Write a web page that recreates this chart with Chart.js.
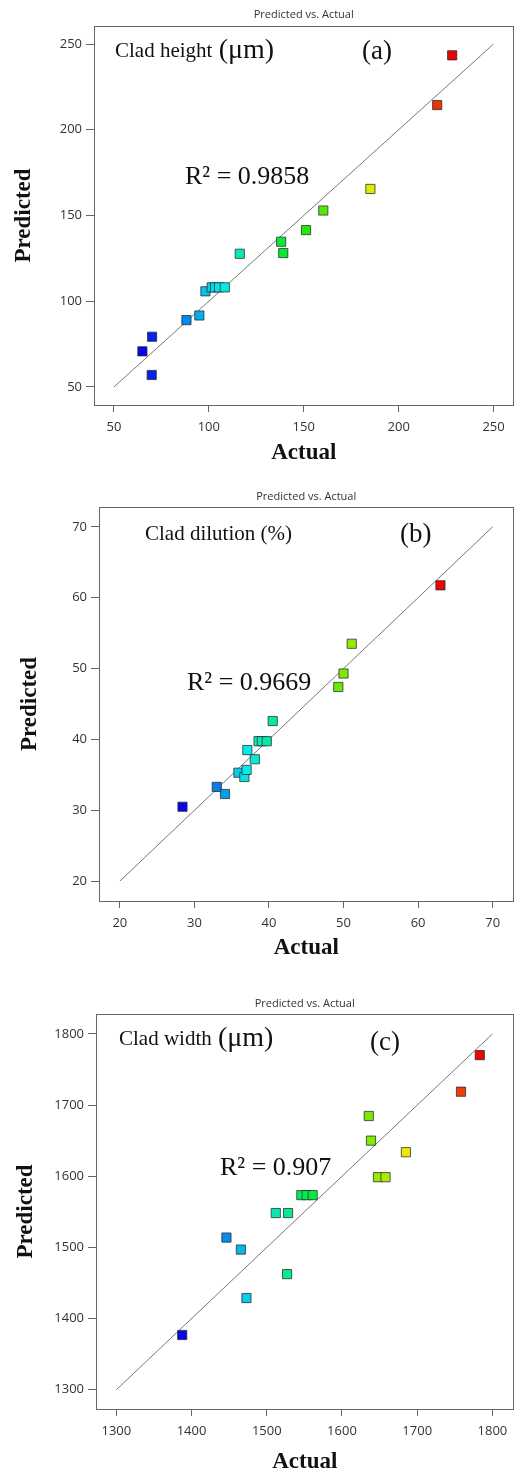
<!DOCTYPE html>
<html>
<head>
<meta charset="utf-8">
<title>Predicted vs. Actual</title>
<script src="https://cdn.jsdelivr.net/npm/chart.js@4.4.1/dist/chart.umd.min.js"></script>
<style>
  html, body { margin: 0; padding: 0; background: #fff; }
  #wrap { position: relative; width: 521px; height: 1474px; }
  .panel { position: absolute; left: 0; width: 521px; }
  .panel canvas { display: block; }
</style>
</head>
<body>
<div id="wrap">
  <div class="panel" style="top:0;"><canvas id="chartA" width="521" height="470"></canvas></div>
  <div class="panel" style="top:480px;"><canvas id="chartB" width="521" height="490"></canvas></div>
  <div class="panel" style="top:990px;"><canvas id="chartC" width="521" height="484"></canvas></div>
</div>

<script>
// ---- (a) Clad height (um) ----
const actualA    = [65, 69.9, 70.1, 88.2, 95, 98.2, 101.5, 103.3, 105.4, 108.4, 116.3, 138.1, 139.2, 151.2, 160.3, 185.1, 220.3, 228.2];
const predictedA = [70.8, 57, 79.3, 89, 91.7, 105.8, 108.1, 108.1, 108.1, 108.1, 127.7, 134.7, 128.1, 141.5, 152.9, 165.5, 214.4, 243.4];
const ticksA = [50, 100, 150, 200, 250];
const rangeA = [39.5, 260.5];
const fitA = [50, 250];

// ---- (b) Clad dilution (%) ----
const actualB    = [28.4, 33.0, 34.1, 35.9, 36.7, 37.0, 37.1, 38.1, 38.6, 39.05, 39.7, 40.5, 49.3, 50.0, 51.1, 63.0];
const predictedB = [30.5, 33.3, 32.3, 35.3, 34.7, 35.7, 38.5, 37.2, 39.75, 39.75, 39.75, 42.6, 47.4, 49.3, 53.5, 61.75];
const ticksB = [20, 30, 40, 50, 60, 70];
const rangeB = [17.2, 72.8];
const fitB = [20, 70];

// ---- (c) Clad width (um) ----
const actualC    = [1387.6, 1446.4, 1465.6, 1473, 1512, 1527, 1528.3, 1546, 1553, 1561, 1635.6, 1638.6, 1647.8, 1657.9, 1685, 1758.2, 1783.2];
const predictedC = [1377, 1513.9, 1497, 1428.9, 1548.3, 1462.5, 1548.3, 1573.5, 1573.5, 1573.5, 1684.7, 1650.1, 1598.7, 1598.7, 1633.8, 1718.8, 1770.2];
const ticksC = [1300, 1400, 1500, 1600, 1700, 1800];
const rangeC = [1273, 1828];
const fitC = [1300, 1800];

const SERIF = '"Liberation Serif", "Times New Roman", serif';
const SANS = '"Open Sans", "Noto Sans", sans-serif';

// couleur arc-en-ciel : bleu (bas) -> rouge (haut)
function rainbow(values) {
  const lo = Math.min(...values), hi = Math.max(...values);
  return values.map(v => {
    const t = (v - lo) / (hi - lo);
    return `hsl(${Math.round(240 - 240 * t)}, 95%, 47%)`;
  });
}

// cadre + textes du panneau
const panelDecor = {
  id: 'panelDecor',
  afterDraw(chart, args, o) {
    const { ctx, chartArea: a } = chart;
    ctx.save();
    ctx.strokeStyle = '#666';
    ctx.lineWidth = 1;
    ctx.strokeRect(Math.round(a.left) + 0.5, Math.round(a.top) + 0.5, Math.round(a.width) - 1, Math.round(a.height));

    ctx.fillStyle = '#333';
    ctx.textBaseline = 'middle';
    ctx.textAlign = 'center';
    ctx.font = `11px ${SANS}`;
    ctx.fillText('Predicted vs. Actual', (a.left + a.right) / 2, o.titleY);

    ctx.fillStyle = '#111';
    ctx.textAlign = 'left';
    ctx.font = `21px ${SERIF}`;
    ctx.fillText(o.name, o.nameX, o.nameY);
    if (o.unit) {
      const w = ctx.measureText(o.name + ' ').width;
      ctx.font = `28px ${SERIF}`;
      ctx.fillText(o.unit, o.nameX + w + 1, o.nameY);
    }
    ctx.font = `27px ${SERIF}`;
    ctx.fillText(o.tag, o.tagX, o.tagY);
    ctx.font = `26px ${SERIF}`;
    ctx.fillText(o.r2, o.r2X, o.r2Y);
    ctx.restore();
  }
};

function buildPanel(id, actual, predicted, ticks, range, fit, box, deco) {
  const canvas = document.getElementById(id);
  const H = canvas.height, W = canvas.width;
  const tickFont = { family: SANS, size: 13 };
  return new Chart(canvas, {
    data: {
      datasets: [
        {
          type: 'scatter',
          data: actual.map((x, i) => ({ x, y: predicted[i] })),
          pointStyle: 'rect',
          pointRadius: 6.5,
          backgroundColor: rainbow(actual),
          borderColor: 'rgba(40,40,40,0.75)',
          borderWidth: 1
        },
        {
          type: 'line',
          data: fit.map(v => ({ x: v, y: v })),
          borderColor: '#777',
          borderWidth: 1,
          pointRadius: 0,
          fill: false
        }
      ]
    },
    options: {
      responsive: false,
      animation: false,
      layout: { padding: { top: box.top, right: W - box.right, left: 0, bottom: 0 } },
      plugins: {
        legend: { display: false },
        tooltip: { enabled: false },
        panelDecor: deco
      },
      scales: {
        x: {
          type: 'linear',
          min: range[0], max: range[1],
          afterBuildTicks: s => { s.ticks = ticks.map(v => ({ value: v })); },
          afterFit: s => { s.height = H - box.bottom; },
          border: { display: false },
          grid: { drawOnChartArea: false, drawTicks: true, tickLength: 7, color: '#666' },
          ticks: { color: '#333', font: tickFont, padding: 7, maxRotation: 0, autoSkip: false,
                   callback: v => String(v) },
          title: { display: true, text: 'Actual', color: '#111',
                   font: { family: SERIF, size: 23, weight: 'bold', lineHeight: 1 },
                   padding: { top: 0, bottom: deco.xTitlePad } }
        },
        y: {
          type: 'linear',
          min: range[0], max: range[1],
          afterBuildTicks: s => { s.ticks = ticks.map(v => ({ value: v })); },
          afterFit: s => { s.width = box.left; },
          border: { display: false },
          grid: { drawOnChartArea: false, drawTicks: true, tickLength: 8, color: '#666' },
          ticks: { color: '#333', font: tickFont, padding: 4, autoSkip: false,
                   callback: v => String(v) },
          title: { display: true, text: 'Predicted', color: '#111',
                   font: { family: SERIF, size: 23, weight: 'bold', lineHeight: 1 },
                   padding: { top: deco.yTitlePad, bottom: 0 } }
        }
      }
    },
    plugins: [panelDecor]
  });
}

buildPanel('chartA', actualA, predictedA, ticksA, rangeA, fitA,
  { left: 94, top: 26, right: 514, bottom: 405 },
  { titleY: 15, name: 'Clad height', unit: '(μm)', nameX: 115, nameY: 51,
    tag: '(a)', tagX: 362, tagY: 52, r2: 'R² = 0.9858', r2X: 185, r2Y: 177,
    xTitlePad: 5, yTitlePad: 13 });

buildPanel('chartB', actualB, predictedB, ticksB, rangeB, fitB,
  { left: 99, top: 27, right: 518, bottom: 421 },
  { titleY: 17, name: 'Clad dilution (%)', unit: '', nameX: 145, nameY: 54,
    tag: '(b)', tagX: 400, tagY: 55, r2: 'R² = 0.9669', r2X: 187, r2Y: 203,
    xTitlePad: 10, yTitlePad: 19 });

buildPanel('chartC', actualC, predictedC, ticksC, rangeC, fitC,
  { left: 96, top: 24, right: 518, bottom: 419 },
  { titleY: 14, name: 'Clad width', unit: '(μm)', nameX: 119, nameY: 49,
    tag: '(c)', tagX: 370, tagY: 53, r2: 'R² = 0.907', r2X: 220, r2Y: 178,
    xTitlePad: 0, yTitlePad: 15 });
</script>
</body>
</html>
